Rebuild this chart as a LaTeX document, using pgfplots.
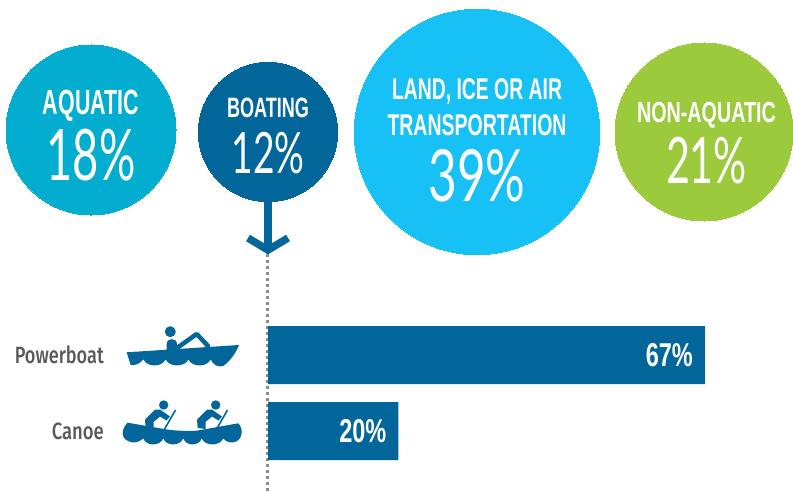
\documentclass[border=0pt]{standalone}
\usepackage{pgfplots}
\usepackage{graphicx}
\usepackage{fontspec}
\pgfplotsset{compat=1.18}
\setmainfont{Liberation Sans}
\newfontfamily\thinfont{Lato}
\newfontfamily\medfont{Fira Sans Medium}
\definecolor{aquatic}{HTML}{03ADD0}
\definecolor{boating}{HTML}{02669B}
\definecolor{land}{HTML}{17C0F5}
\definecolor{nonaq}{HTML}{9BCB3C}
\definecolor{labelgray}{HTML}{58595B}

% #1 x centre, #2 baseline y, #3 width, #4 font size, #5 text
\newcommand\headlab[5]{\node[anchor=base,inner sep=0pt,text=white] at (axis cs:#1,#2)
  {\resizebox{#3pt}{\height}{\fontsize{#4}{#4}\selectfont\bfseries #5}};}
\newcommand\pctlab[5]{\node[anchor=base,inner sep=0pt,text=white] at (axis cs:#1,#2)
  {\resizebox{#3pt}{\height}{\fontsize{#4}{#4}\selectfont\thinfont #5}};}
\newcommand\rowlab[4]{\node[anchor=base east,inner sep=0pt,text=labelgray] at (axis cs:104,#1)
  {\resizebox{#2pt}{\height}{\fontsize{#3}{#3}\selectfont\medfont #4}};}
\newcommand\paddler[1]{%
  \begin{scope}[xshift=#1pt]
    \fill[boating] (163.7,405) circle[radius=4.7pt];
    \fill[boating] (155,409.5) -- (145,419.5) -- (145.7,428) -- (153.5,429) -- (153.5,422)
      -- (160,416.5) -- (166.5,420.5) -- (170,416.5) -- (160,409.5) -- cycle;
    \draw[boating,line width=1.6pt] (175.5,410) -- (163.5,431);
  \end{scope}}
\pgfplotsset{pixelaxis/.style={scale only axis, width=793pt, height=492pt,
  ymin=0, ymax=492, y dir=reverse, hide axis, clip=false}}

\begin{document}
\begin{tikzpicture}
\path[use as bounding box] (0,0) rectangle (793pt,492pt);
\begin{axis}[pixelaxis, xmin=0, xmax=793]
  % bubbles, pixel positions
  \addplot[only marks, mark=*, mark size=85pt, color=aquatic, mark options={line width=0pt}] coordinates {(91,130)};
  \addplot[only marks, mark=*, mark size=122.7pt, color=land, mark options={line width=0pt}] coordinates {(477,132)};
  \addplot[only marks, mark=*, mark size=89pt, color=nonaq, mark options={line width=0pt}] coordinates {(704,132)};
  % dotted guide and arrow
  \addplot[color=black!45, line width=3pt, dash pattern=on 3pt off 3pt] coordinates {(267.5,254) (267.5,492)};
  \addplot[color=boating, line width=8pt] coordinates {(268,195) (268,248)};
  \addplot[color=boating, line width=7.5pt, miter limit=10] coordinates {(248,238) (268,250) (288,238)};
  \addplot[only marks, mark=*, mark size=69.7pt, color=boating, mark options={line width=0pt}] coordinates {(268,132)};

  % powerboat icon
  \fill[boating] (170.3,331.7) circle[radius=5.5pt];
  \fill[boating] (126.7,352.3) -- (239,345) .. controls (236,353) and (230,361) .. (223.3,366)
    .. controls (218,367.5) and (213,365) .. (210.7,359.3)
    .. controls (207,367.5) and (192,367.5) .. (188.3,359.3)
    .. controls (185,367.5) and (169,367.5) .. (165.7,359.3)
    .. controls (162,367.5) and (147,367.5) .. (143.3,359.3)
    .. controls (140,364) and (135,365.5) .. (130.7,365) -- cycle;
  \fill[boating] (166.7,344) .. controls (166.7,337.5) and (177,337.5) .. (177,344) -- (177,352) -- (166.7,352) -- cycle;
  \draw[boating, line width=4.5pt, line join=round, line cap=round] (178.5,347) -- (196.7,334) -- (208,346);
  % canoe icon
  \paddler{0}
  \paddler{52}
  \fill[boating] (127.7,422.7) -- (165.7,429.3) .. controls (176,431) and (188,431) .. (196.7,430.7)
    -- (238.3,423.3) .. controls (241,426) and (242,430) .. (241.7,433.3)
    .. controls (241,439) and (237,442) .. (233.3,442.3)
    .. controls (229,443) and (225,441) .. (223.3,438.3)
    .. controls (220,446.5) and (205,446.5) .. (201.7,438.3)
    .. controls (199,446.5) and (186,446.5) .. (183.3,438.3)
    .. controls (180,446.5) and (166,446.5) .. (163.3,438.3)
    .. controls (160,446.5) and (146,446.5) .. (143.3,438.3)
    .. controls (141,441) and (136,443) .. (131.7,442.3)
    .. controls (126,441) and (122.7,438) .. (122.7,433.3)
    .. controls (122.7,429) and (125,425) .. (127.7,422.7) -- cycle;
\end{axis}
% bars in percent: 67% spans 268 to 705 px
\begin{axis}[pixelaxis, xmin=-41.09, xmax=80.49,
  xbar, bar width=58pt,
  /pgf/number format/assume math mode=true,
  nodes near coords={\resizebox{47pt}{\height}{\fontsize{33}{33}\selectfont\bfseries\pgfmathprintnumber{\pgfplotspointmeta}\%}},
  nodes near coords align={anchor=east},
  every node near coord/.append style={text=white, inner sep=0pt, xshift=-12pt}]
  \addplot[fill=boating, draw=none] coordinates {(67,355) (20,431)};
\end{axis}
% labels go last, markers would cover them otherwise
\begin{axis}[pixelaxis, xmin=0, xmax=793]
  \headlab{91}{115}{96}{35}{AQUATIC}
  \pctlab{91}{181}{89}{71}{18\%}
  \headlab{268}{118}{82}{28}{BOATING}
  \pctlab{268}{174}{73}{57}{12\%}
  \headlab{477}{100}{170}{30}{LAND, ICE OR AIR}
  \headlab{477}{136}{179}{30}{TRANSPORTATION}
  \pctlab{477}{202}{97}{72}{39\%}
  \headlab{706.5}{123}{139}{29}{NON-AQUATIC}
  \pctlab{706.5}{184}{81}{64}{21\%}
  \rowlab{363}{89}{23.5}{Powerboat}
  \rowlab{439}{52}{23.5}{Canoe}
\end{axis}
\end{tikzpicture}
\end{document}
